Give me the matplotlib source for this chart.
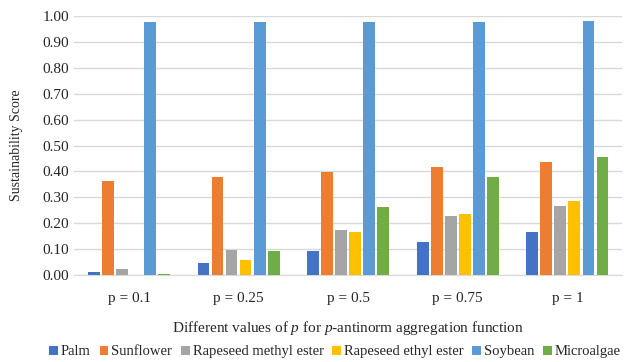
import numpy as np
import matplotlib
matplotlib.use("Agg")
import matplotlib.pyplot as plt

plt.rcParams['font.family'] = ['Liberation Serif', 'DejaVu Serif']
plt.rcParams['mathtext.fontset'] = 'custom'
plt.rcParams['mathtext.rm'] = 'Liberation Serif'
plt.rcParams['mathtext.it'] = 'Liberation Serif:italic'

categories = ['p = 0.1', 'p = 0.25', 'p = 0.5', 'p = 0.75', 'p = 1']
series_names = ['Palm', 'Sunflower', 'Rapeseed methyl ester', 'Rapeseed ethyl ester', 'Soybean', 'Microalgae']
palm = [0.012, 0.046, 0.093, 0.127, 0.166]
sunflower = [0.363, 0.378, 0.398, 0.417, 0.436]
rapeseed_methyl = [0.025, 0.098, 0.174, 0.228, 0.266]
rapeseed_ethyl = [0.0, 0.059, 0.166, 0.236, 0.286]
soybean = [0.977, 0.977, 0.977, 0.977, 0.981]
microalgae = [0.004, 0.094, 0.263, 0.378, 0.456]

colors = ['#4472C4', '#ED7D31', '#A5A5A5', '#FFC000', '#5B9BD5', '#70AD47']
values = [palm, sunflower, rapeseed_methyl, rapeseed_ethyl, soybean, microalgae]

fig = plt.figure(figsize=(6.24, 3.62), dpi=100)
ax = fig.add_axes([0.119, 0.240, 0.878, 0.716])

x = np.arange(len(categories))
step = 0.128
width = 0.107
for i, (name, vals, c) in enumerate(zip(series_names, values, colors)):
    ax.bar(x + (i - 2.5) * step, vals, width, color=c, label=name, zorder=3)

ax.set_ylim(0, 1.0)
ax.set_xlim(-0.5, len(categories) - 0.5)
ax.set_yticks(np.arange(0, 1.01, 0.1))
ax.set_yticklabels([f"{v:.2f}" for v in np.arange(0, 1.01, 0.1)], fontsize=11)
ax.set_xticks(x)
ax.set_xticklabels(categories, fontsize=11)
ax.tick_params(axis='both', length=0, colors='#262626')
ax.tick_params(axis='x', pad=12)
ax.grid(axis='y', color='#d9d9d9', linewidth=1, zorder=0)

for s in ['top', 'right', 'left']:
    ax.spines[s].set_visible(False)
ax.spines['bottom'].set_color('#d9d9d9')

ax.set_ylabel('Sustainability Score', fontsize=10, color='#262626', labelpad=14)
ax.set_xlabel('Different values of $\\mathit{p}$ for $\\mathit{p}$-antinorm aggregation function',
              fontsize=11, color='#262626', labelpad=10)

fig.legend(loc='center', bbox_to_anchor=(0.537, 0.028), ncol=6, frameon=False, fontsize=10.5,
           handlelength=0.6, handleheight=0.6, handletextpad=0.2, columnspacing=0.6,
           labelcolor='#262626')

fig.savefig('out.png', dpi=100)
